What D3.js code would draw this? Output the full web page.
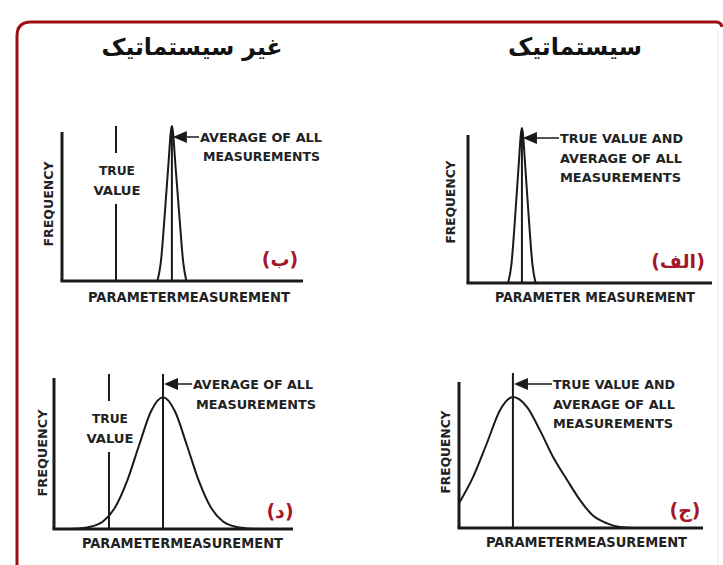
<!DOCTYPE html>
<html>
<head>
<meta charset="utf-8">
<script src="https://cdn.jsdelivr.net/npm/d3@7"></script>
<style>
  body { margin: 0; background: #fff; }
  svg { display: block; }
</style>
</head>
<body>
<svg id="chart" width="723" height="565"></svg>
<script>
// values (x: 0-100 along the axis, y: 0-100 frequency)
var titles = ['غیر سیستماتیک', 'سیستماتیک'];
var panelLetters = ['(ب)', '(الف)', '(د)', '(ج)'];
var meanValues = [45.6, 22.1, 45.6, 22.1];
var trueValues = [22.4, 22.1, 23.0, 22.1];

var curveX_b = [39.6, 41, 42.5, 44, 45.6, 47.2, 48.8, 50.3, 51.6];
var curveY_b = [0, 12, 40, 72, 100, 72, 40, 12, 0];
var curveX_alef = [16.4, 17.8, 19.2, 20.6, 22.1, 23.6, 25, 26.4, 27.7];
var curveY_alef = [0, 12, 40, 72, 100, 72, 40, 12, 0];
var curveX_dal = [6, 10.6, 15.6, 20.6, 25.6, 30.6, 35.6, 40.6, 45.6, 50.6, 55.6, 60.6, 65.6, 70.6, 75.6, 80.6, 86];
var curveY_dal = [0, 0.4, 1.6, 5, 14, 31, 54, 76, 85, 76, 54, 31, 14, 5, 1.6, 0.4, 0];
var curveX_jim = [0, 5.8, 11.5, 16.8, 22.1, 27.9, 33.2, 38.5, 44.3, 49.6, 54.9, 60.7, 66, 71];
var curveY_jim = [16, 33, 55, 76, 84.5, 78, 63, 46, 31, 18, 8, 3, 0.6, 0];

var noteLines = [
  ['AVERAGE OF ALL', 'MEASUREMENTS'],
  ['TRUE VALUE AND', 'AVERAGE OF ALL', 'MEASUREMENTS'],
  ['AVERAGE OF ALL', 'MEASUREMENTS'],
  ['TRUE VALUE AND', 'AVERAGE OF ALL', 'MEASUREMENTS']
];
var trueLabel = ['TRUE', 'VALUE'];
var xLabel = ['PARAMETERMEASUREMENT', 'PARAMETER MEASUREMENT', 'PARAMETERMEASUREMENT', 'PARAMETERMEASUREMENT'];
var yLabel = 'FREQUENCY';

// layout of each panel (pixels)
var layout = [
  { x0: 62, x1: 303, base: 281, axisTop: 132, noteX: 200, noteY: 142, noteW: [122, 117], noteGap: 19, trueTop: 165,
    letterX: 280, letterY: 266, freqX: 53, freqY: 204, freqL: 85, paramX: 88, paramW: 202, paramY: 302,
    xs: curveX_b, ys: curveY_b },
  { x0: 468, x1: 712, base: 283, axisTop: 135, noteX: 560, noteY: 143, noteW: [123, 122, 121], noteGap: 19.5,
    letterX: 678, letterY: 268, freqX: 455, freqY: 202, freqL: 83, paramX: 495, paramW: 200, paramY: 302,
    xs: curveX_alef, ys: curveY_alef },
  { x0: 54, x1: 293, base: 529, axisTop: 378, noteX: 193, noteY: 389, noteW: [120, 120], noteGap: 19.5, trueTop: 413,
    letterX: 280, letterY: 518, freqX: 47, freqY: 453, freqL: 87, paramX: 82, paramW: 201, paramY: 548,
    xs: curveX_dal, ys: curveY_dal },
  { x0: 459, x1: 703, base: 528, axisTop: 382, noteX: 553, noteY: 389, noteW: [122, 122, 120], noteGap: 19.5,
    letterX: 685, letterY: 517, freqX: 450, freqY: 452, freqL: 83, paramX: 486, paramW: 201, paramY: 547,
    xs: curveX_jim, ys: curveY_jim }
];

var ink = '#1a1a1a';
var red = '#a3172a';
var latin = '"Liberation Sans Narrow", "Arial Narrow", "DejaVu Sans Condensed", sans-serif';
var persian = '"DejaVu Sans", "Noto Sans", sans-serif';

var svg = d3.select('#chart');

// frame
svg.append('path')
  .attr('d', 'M17,566 L17,36 Q17,22 31,22 L716,22 Q721,22 722,27')
  .attr('fill', 'none')
  .attr('stroke', '#9c0f14')
  .attr('stroke-width', 3);
svg.append('line')
  .attr('x1', 718).attr('x2', 718).attr('y1', 30).attr('y2', 565)
  .attr('stroke', '#e6e6e6').attr('stroke-width', 1);

// titles, fitted to the widths in the picture
var titlePos = [{ cx: 192, w: 181 }, { cx: 575, w: 134 }];
titles.forEach(function(t, i) {
  var el = svg.append('text')
    .text(t)
    .attr('x', titlePos[i].cx)
    .attr('y', 55)
    .attr('text-anchor', 'middle')
    .style('font-family', persian)
    .style('font-weight', 'bold')
    .style('font-size', '20px')
    .style('fill', '#111');
  var w = el.node().getComputedTextLength();
  el.style('font-size', (20 * titlePos[i].w / w) + 'px');
});

layout.forEach(function(p, i) {
  var g = svg.append('g');
  var x = d3.scaleLinear().domain([0, 100]).range([p.x0, p.x1]);
  var y = d3.scaleLinear().domain([0, 100]).range([p.base, p.base - 155]);

  // axes
  g.append('line')
    .attr('x1', p.x0).attr('x2', p.x0).attr('y1', p.axisTop).attr('y2', p.base)
    .attr('stroke', ink).attr('stroke-width', 3);
  g.append('line')
    .attr('x1', p.x0 - 1.5).attr('x2', p.x1).attr('y1', p.base).attr('y2', p.base)
    .attr('stroke', ink).attr('stroke-width', 3);

  // distribution curve
  var pts = p.xs.map(function(v, k) { return [v, p.ys[k]]; });
  var line = d3.line()
    .x(function(d) { return x(d[0]); })
    .y(function(d) { return y(d[1]); })
    .curve(d3.curveMonotoneX);
  g.append('path')
    .attr('d', line(pts))
    .attr('fill', 'none')
    .attr('stroke', ink)
    .attr('stroke-width', 2);

  // average line
  var mx = x(meanValues[i]);
  g.append('line')
    .attr('x1', mx).attr('x2', mx).attr('y1', y(100)).attr('y2', p.base)
    .attr('stroke', ink).attr('stroke-width', 2);

  // arrow and note
  var ay = p.noteY - 5;
  g.append('path')
    .attr('d', 'M' + (mx + 1) + ',' + ay + ' L' + (mx + 15) + ',' + (ay - 6) + ' L' + (mx + 15) + ',' + (ay + 6) + ' Z')
    .attr('fill', ink);
  g.append('line')
    .attr('x1', mx + 15).attr('x2', p.noteX - 1).attr('y1', ay).attr('y2', ay)
    .attr('stroke', ink).attr('stroke-width', 1.5);
  noteLines[i].forEach(function(t, k) {
    g.append('text')
      .text(t)
      .attr('x', p.noteX + (k > 0 && noteLines[i].length == 2 ? 3 : 0))
      .attr('y', p.noteY + k * p.noteGap)
      .attr('textLength', p.noteW[k])
      .attr('lengthAdjust', 'spacingAndGlyphs')
      .style('font-family', latin)
      .style('font-weight', 'bold')
      .style('font-size', '12.5px')
      .style('fill', '#222');
  });

  // separate true value line with its label (non systematic panels)
  if (p.trueTop) {
    var tx = x(trueValues[i]);
    g.append('line')
      .attr('x1', tx).attr('x2', tx).attr('y1', y(100)).attr('y2', p.trueTop - 12)
      .attr('stroke', ink).attr('stroke-width', 2);
    g.append('line')
      .attr('x1', tx).attr('x2', tx).attr('y1', p.trueTop + 39).attr('y2', p.base)
      .attr('stroke', ink).attr('stroke-width', 2);
    var tw = [36, 47];
    trueLabel.forEach(function(t, k) {
      g.append('text')
        .text(t)
        .attr('x', tx + 1 - tw[k] / 2)
        .attr('y', p.trueTop + 10 + k * 20)
        .attr('textLength', tw[k])
        .attr('lengthAdjust', 'spacingAndGlyphs')
        .style('font-family', latin)
        .style('font-weight', 'bold')
        .style('font-size', '13px')
        .style('fill', '#222');
    });
  }

  // axis titles
  g.append('text')
    .text(xLabel[i])
    .attr('x', p.paramX)
    .attr('y', p.paramY)
    .attr('textLength', p.paramW)
    .attr('lengthAdjust', 'spacingAndGlyphs')
    .style('font-family', latin)
    .style('font-weight', 'bold')
    .style('font-size', '13.5px')
    .style('fill', '#222');
  g.append('text')
    .text(yLabel)
    .attr('transform', 'translate(' + p.freqX + ',' + p.freqY + ') rotate(-90)')
    .attr('text-anchor', 'middle')
    .attr('textLength', p.freqL)
    .attr('lengthAdjust', 'spacingAndGlyphs')
    .style('font-family', latin)
    .style('font-weight', 'bold')
    .style('font-size', '12.5px')
    .style('fill', '#222');

  // panel letter
  g.append('text')
    .text(panelLetters[i])
    .attr('x', p.letterX)
    .attr('y', p.letterY)
    .attr('text-anchor', 'middle')
    .style('font-family', persian)
    .style('font-weight', 'bold')
    .style('font-size', '19px')
    .style('fill', red);
});
</script>
</body>
</html>
